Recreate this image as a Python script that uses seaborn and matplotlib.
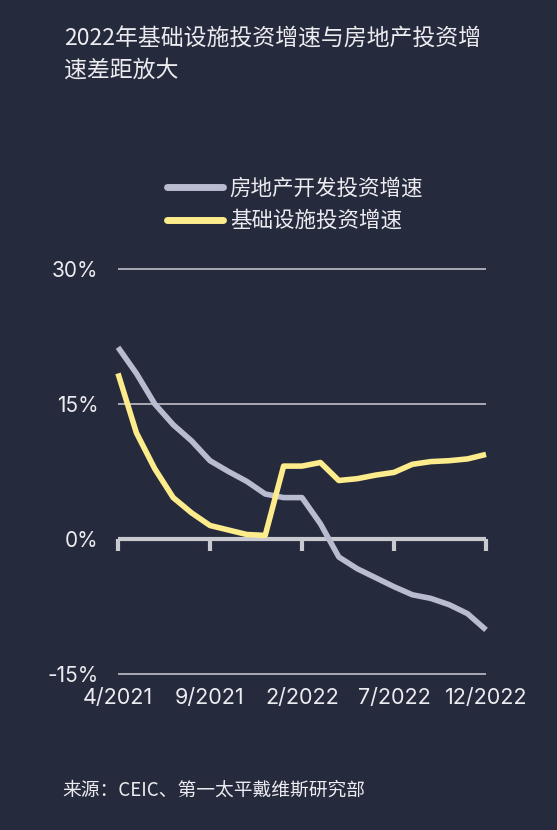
import matplotlib
matplotlib.use("Agg")
import matplotlib.pyplot as plt
import seaborn as sns
import pandas as pd
from matplotlib.lines import Line2D

# Monthly cumulative YoY growth (%), 4/2021 .. 12/2022
months = ["4/2021", "5/2021", "6/2021", "7/2021", "8/2021", "9/2021", "10/2021",
          "11/2021", "12/2021", "1/2022", "2/2022", "3/2022", "4/2022", "5/2022",
          "6/2022", "7/2022", "8/2022", "9/2022", "10/2022", "11/2022", "12/2022"]
real_estate = [21.3, 18.4, 15.0, 12.7, 10.9, 8.7, 7.5, 6.4, 5.0, 4.6, 4.6,
               1.7, -2.0, -3.3, -4.3, -5.3, -6.2, -6.6, -7.3, -8.3, -10.1]
infrastructure = [18.4, 11.8, 7.8, 4.6, 2.9, 1.5, 1.0, 0.5, 0.4, 8.1, 8.1,
                  8.5, 6.5, 6.7, 7.1, 7.4, 8.3, 8.6, 8.7, 8.9, 9.4]
series_names = ["房地产开发投资增速", "基础设施投资增速"]
x_ticks = ["4/2021", "9/2021", "2/2022", "7/2022", "12/2022"]
y_ticks = [30, 15, 0, -15]

title = "2022年基础设施投资增速与房地产投资增\n速差距放大"
source = "来源：CEIC、第一太平戴维斯研究部"

BG = "#262a3d"
GREY = "#b9bbd1"
YELLOW = "#fdec8b"
TEXT = "#ececf0"
NUM_FONT = ["Inter", "DejaVu Sans"]

sns.set_theme(style="dark")
plt.rcParams["font.family"] = ["Noto Sans CJK SC", "DejaVu Sans"]

df = pd.DataFrame({
    "idx": list(range(len(months))) * 2,
    "value": real_estate + infrastructure,
    "series": [series_names[0]] * len(months) + [series_names[1]] * len(months),
})

fig = plt.figure(figsize=(5.57, 8.30), dpi=100, facecolor=BG)
ax = fig.add_axes([118 / 557, 156 / 830, 368 / 557, 405 / 830])
ax.set_facecolor(BG)

# horizontal reference lines
for v in y_ticks:
    if v != 0:
        ax.axhline(v, color="#a9aab4", lw=1.4, zorder=1)

sns.lineplot(data=df, x="idx", y="value", hue="series",
             palette={series_names[0]: GREY, series_names[1]: YELLOW},
             linewidth=4, ax=ax, legend=False, zorder=3)
for ln in ax.lines:
    ln.set_clip_on(False)
    ln.set_solid_capstyle("butt")

ax.set_xlim(0, len(months) - 1)
ax.set_ylim(-15, 30)

# zero baseline acting as the x axis
ax.axhline(0, color="#c9cacf", lw=3, zorder=2, solid_capstyle="butt")
for lbl in x_ticks:
    i = months.index(lbl)
    ax.plot([i, i], [0, -1.3], color="#c9cacf", lw=3, zorder=2,
            solid_capstyle="butt", clip_on=False)

for s in ax.spines.values():
    s.set_visible(False)
ax.grid(False)
ax.set_xlabel("")
ax.set_ylabel("")

ax.set_yticks(y_ticks)
ax.set_yticklabels([f"{v}%" for v in y_ticks], family=NUM_FONT,
                   fontsize=15, color=TEXT)
ax.tick_params(axis="y", length=0, pad=14)

ax.set_xticks([])
for lbl in x_ticks:
    i = months.index(lbl)
    ax.text(i, -16.6, lbl, ha="center", va="top", fontsize=15.5, color=TEXT,
            family=NUM_FONT, clip_on=False)

fig.text(64 / 557, 1 - 28 / 830, title, ha="left", va="top", fontsize=16.5,
         color=TEXT, linespacing=1.45)

handles = [Line2D([0], [0], color=GREY, lw=5, solid_capstyle="round"),
           Line2D([0], [0], color=YELLOW, lw=5, solid_capstyle="round")]
leg = fig.legend(handles, series_names, loc="upper left",
                 bbox_to_anchor=(148 / 557, 1 - 158 / 830), frameon=False,
                 fontsize=15.5, handlelength=2.6, handletextpad=0.3,
                 labelspacing=0.5, labelcolor=TEXT)

fig.text(62 / 557, 1 - 790 / 830, source, ha="left", va="center",
         fontsize=13.5, color=TEXT)

fig.savefig("out.png", dpi=100, facecolor=BG)
